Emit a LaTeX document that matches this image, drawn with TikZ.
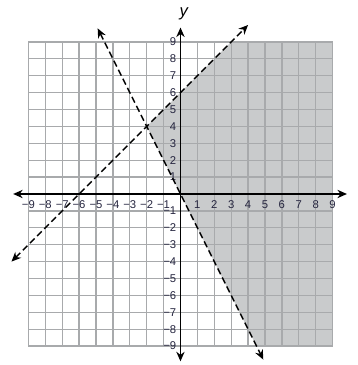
\documentclass[tikz,border=0pt]{standalone}
\usepackage{fontspec}
\setmainfont{Liberation Sans}
\usetikzlibrary{arrows.meta}
\definecolor{shadecol}{HTML}{C9CBCC}
\definecolor{gridcol}{HTML}{A8AAAC}
\definecolor{labcol}{HTML}{25253F}
\begin{document}
\begin{tikzpicture}[x=0.5cm,y=0.5cm,
  gridline/.style={draw=gridcol, line width=1.1pt},
  axisline/.style={line width=1.1pt, {Stealth[length=8pt,width=7pt]}-{Stealth[length=8pt,width=7pt]}},
  boundary/.style={line width=1.2pt, dash pattern=on 5.5pt off 3pt, {Stealth[length=8pt,width=7pt]}-{Stealth[length=8pt,width=7pt]}},
  ticklab/.style={font=\fontsize{9.5}{10}\selectfont, text=labcol, inner sep=0.5pt},
  axlab/.style={font=\fontsize{14}{15}\selectfont\itshape, inner sep=0pt}]
\useasboundingbox (-10.68,-10.12) rectangle (10.50,11.48);
% shaded feasible region
\fill[shadecol] (-2,4) -- (3,9) -- (9,9) -- (9,-9) -- (4.5,-9) -- cycle;
% grid
\foreach \k in {-9,...,9} {
  \draw[gridline] (\k,-9) -- (\k,9);
  \draw[gridline] (-9,\k) -- (9,\k);
}
% axes
\coordinate (xl) at (-9.9,0);
\coordinate (xr) at (9.85,0);
\coordinate (yb) at (0,-9.9);
\coordinate (yt) at (0,9.85);
\draw[axisline] (xl) -- (xr);
\draw[axisline] (yb) -- (yt);
\node[axlab] (ylab) at (0.2,10.65) {y};
\node[axlab] (xlab) at (10.85,0) {x};
% tick labels
\foreach \k in {1,...,9} {
  \node[ticklab] (xp\k) at (\k,-0.62) {\k};
  \node[ticklab] (xn\k) at (-\k,-0.62) {−\k};
  \node[ticklab, anchor=east] (yp\k) at (-0.2,\k) {\k};
  \node[ticklab, anchor=east] (yn\k) at (-0.2,-\k) {−\k};
}
% boundary lines
\coordinate (aS) at (-10,-4);
\coordinate (aE) at (4,10);
\coordinate (bS) at (-4.9,9.8);
\coordinate (bE) at (4.9,-9.8);
\draw[boundary] (aS) -- (aE);
\draw[boundary] (bS) -- (bE);
\end{tikzpicture}
\end{document}
